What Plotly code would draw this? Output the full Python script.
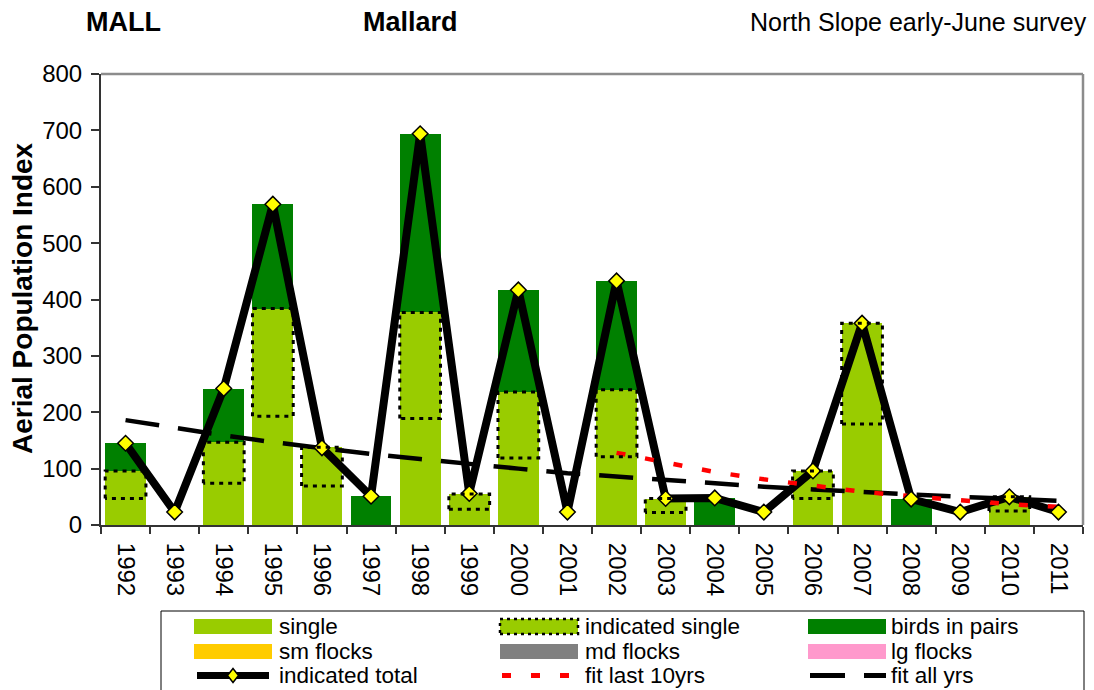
import plotly.graph_objects as go

# Data
years = ['1992', '1993', '1994', '1995', '1996', '1997', '1998', '1999', '2000', '2001',
         '2002', '2003', '2004', '2005', '2006', '2007', '2008', '2009', '2010', '2011']
single = [96, 0, 147, 384, 138, 0, 377, 55, 236, 0, 240, 47, 0, 0, 96, 358, 0, 0, 50, 0]
birds_in_pairs = [49, 0, 95, 185, 0, 51, 317, 0, 181, 0, 193, 0, 48, 0, 0, 0, 46, 0, 0, 0]
sm_flocks = [0] * 20
md_flocks = [0] * 20
lg_flocks = [0] * 20
# dotted "indicated single" box runs from this base up to the single value
ind_single_base = [47, 0, 74, 193, 69, 0, 189, 28, 119, 0, 121, 22, 0, 0, 47, 179, 0, 0, 25, 0]
indicated_total = [145, 23, 242, 569, 137, 51, 694, 56, 417, 23, 433, 47, 48, 23, 96, 358, 46, 23, 50, 23]
fit_all_yrs = [186, 172, 159, 147, 136, 126, 117, 108, 100, 92, 86, 79, 73, 68, 63, 58, 54, 50, 46, 43]
fit_years_10 = years[10:]
fit_last_10 = [128, 110, 94, 81, 69, 59, 51, 44, 37, 32]

FONT = 'Liberation Sans, Arial, sans-serif'
W, H = 1094, 690
L, R, T, B = 101, 11, 74, 165
PW, PH = W - L - R, H - T - B


def xp(px):
    return (px - L) / PW


def yp(py):
    return (H - B - py) / PH


fig = go.Figure()

# stacked bars
fig.add_trace(go.Bar(x=years, y=single, marker_color='#99CC00', marker_line_width=0, name='single'))
fig.add_trace(go.Bar(x=years, y=birds_in_pairs, marker_color='#008000', marker_line_width=0, name='birds in pairs'))
fig.add_trace(go.Bar(x=years, y=sm_flocks, marker_color='#FFCC00', marker_line_width=0, name='sm flocks'))
fig.add_trace(go.Bar(x=years, y=md_flocks, marker_color='#808080', marker_line_width=0, name='md flocks'))
fig.add_trace(go.Bar(x=years, y=lg_flocks, marker_color='#FF99CC', marker_line_width=0, name='lg flocks'))

# dotted indicated-single boxes, drawn on an overlaid numeric axis (category index)
hw = 0.415
bx, by = [], []
for i, (lo, hi) in enumerate(zip(ind_single_base, single)):
    if hi <= 0:
        continue
    bx += [i - hw, i - hw, i + hw, i + hw, i - hw, None]
    by += [lo, hi, hi, lo, lo, None]
fig.add_trace(go.Scatter(x=bx, y=by, mode='lines', xaxis='x2', yaxis='y',
                         line=dict(color='black', width=3, dash='4px,5px'),
                         name='indicated single', hoverinfo='skip'))

# indicated total line
fig.add_trace(go.Scatter(x=years, y=indicated_total, mode='lines',
                         line=dict(color='black', width=8), name='indicated total'))

# fits
fig.add_trace(go.Scatter(x=years, y=fit_all_yrs, mode='lines',
                         line=dict(color='black', width=4.5, dash='34px,19px'), name='fit all yrs'))
fig.add_trace(go.Scatter(x=fit_years_10, y=fit_last_10, mode='lines',
                         line=dict(color='#FF0000', width=4.5, dash='9px,20px'), name='fit last 10yrs'))

# markers on top
fig.add_trace(go.Scatter(x=years, y=indicated_total, mode='markers',
                         marker=dict(symbol='diamond', size=12, color='#FFFF00',
                                     line=dict(color='black', width=1.5)),
                         name='indicated total markers'))

shapes = []
annotations = []

# plot frame: grey top/right
shapes.append(dict(type='line', xref='paper', yref='paper', x0=0, x1=1, y0=1, y1=1,
                   line=dict(color='#8C8C8C', width=2.5), layer='above'))
shapes.append(dict(type='line', xref='paper', yref='paper', x0=1, x1=1, y0=0, y1=1,
                   line=dict(color='#8C8C8C', width=2.5), layer='above'))

# manual legend box
shapes.append(dict(type='rect', xref='paper', yref='paper',
                   x0=xp(161), x1=xp(1084), y0=yp(694), y1=yp(611),
                   line=dict(color='black', width=1), fillcolor='white'))

col_sw = [194, 500, 808]
col_tx = [277, 583, 889]
row_y = [626.5, 651.5, 675.5]
sw_w = 78
sw_h = 15

swatches = [
    ('single', '#99CC00', 0, 0),
    ('indicated single', '#99CC00', 1, 0),
    ('birds in pairs', '#008000', 2, 0),
    ('sm flocks', '#FFCC00', 0, 1),
    ('md flocks', '#808080', 1, 1),
    ('lg flocks', '#FF99CC', 2, 1),
]
for label, color, c, r in swatches:
    x0 = col_sw[c]
    yc = row_y[r]
    line = dict(width=0)
    if label == 'indicated single':
        line = dict(color='black', width=2.5, dash='3px,4px')
    shapes.append(dict(type='rect', xref='paper', yref='paper',
                       x0=xp(x0), x1=xp(x0 + sw_w), y0=yp(yc + sw_h / 2), y1=yp(yc - sw_h / 2),
                       fillcolor=color, line=line))

# row 3 swatches: indicated total, fit last 10yrs, fit all yrs
yc = row_y[2]
shapes.append(dict(type='line', xref='paper', yref='paper',
                   x0=xp(col_sw[0] + 3), x1=xp(col_sw[0] + sw_w - 3), y0=yp(yc), y1=yp(yc),
                   line=dict(color='black', width=7)))
dcx = col_sw[0] + sw_w / 2
shapes.append(dict(type='path', xref='paper', yref='paper',
                   path='M {a},{b} L {c},{d} L {a},{e} L {f},{d} Z'.format(
                       a=xp(dcx), b=yp(yc - 7), c=xp(dcx + 5.5), d=yp(yc), e=yp(yc + 7), f=xp(dcx - 5.5)),
                   fillcolor='#FFFF00', line=dict(color='black', width=1.5)))
shapes.append(dict(type='line', xref='paper', yref='paper',
                   x0=xp(col_sw[1] + 2), x1=xp(col_sw[1] + sw_w - 8), y0=yp(yc), y1=yp(yc),
                   line=dict(color='#FF0000', width=5, dash='9px,20px')))
shapes.append(dict(type='line', xref='paper', yref='paper',
                   x0=xp(col_sw[2] + 2), x1=xp(col_sw[2] + sw_w), y0=yp(yc), y1=yp(yc),
                   line=dict(color='black', width=5, dash='35px,19px')))

labels = [('single', 0, 0), ('indicated single', 1, 0), ('birds in pairs', 2, 0),
          ('sm flocks', 0, 1), ('md flocks', 1, 1), ('lg flocks', 2, 1),
          ('indicated total', 0, 2), ('fit last 10yrs', 1, 2), ('fit all yrs', 2, 2)]
for text, c, r in labels:
    annotations.append(dict(text=text, xref='paper', yref='paper', x=xp(col_tx[c]), y=yp(row_y[r]),
                            xanchor='left', yanchor='middle', showarrow=False,
                            font=dict(family=FONT, size=22.5, color='black')))

# header texts
annotations.append(dict(text='<b>MALL</b>', xref='paper', yref='paper', x=xp(84), y=yp(22),
                        xanchor='left', yanchor='middle', showarrow=False,
                        font=dict(family=FONT, size=27, color='black')))
annotations.append(dict(text='<b>Mallard</b>', xref='paper', yref='paper', x=xp(361), y=yp(22),
                        xanchor='left', yanchor='middle', showarrow=False,
                        font=dict(family=FONT, size=27, color='black')))
annotations.append(dict(text='North Slope early-June survey', xref='paper', yref='paper', x=xp(1089), y=yp(22),
                        xanchor='right', yanchor='middle', showarrow=False,
                        font=dict(family=FONT, size=25, color='black')))
annotations.append(dict(text='<b>Aerial Population Index</b>', xref='paper', yref='paper', x=xp(22), y=yp(298),
                        xanchor='center', yanchor='middle', textangle=-90, showarrow=False,
                        font=dict(family=FONT, size=28, color='black')))

fig.update_layout(
    width=W, height=H,
    margin=dict(l=L, r=R, t=T, b=B, pad=0, autoexpand=False),
    paper_bgcolor='white',
    plot_bgcolor='white',
    barmode='stack',
    bargap=0.17,
    showlegend=False,
    font=dict(family=FONT, color='black'),
    xaxis=dict(type='category', categoryorder='array', categoryarray=years, range=[-0.5, 19.5],
               tickson='boundaries', ticks='outside', ticklen=7, tickwidth=1.5, tickcolor='#333333',
               tickangle=90, tickfont=dict(size=24), showline=True, linecolor='#333333', linewidth=2,
               showgrid=False, zeroline=False, ticklabelstandoff=11, automargin=False),
    xaxis2=dict(overlaying='x', range=[-0.5, 19.5], visible=False),
    yaxis=dict(range=[0, 800], dtick=100, ticks='outside', ticklen=8, tickwidth=1.5, tickcolor='#333333',
               tickfont=dict(size=24), showline=True, linecolor='#333333', linewidth=2,
               showgrid=False, zeroline=False, ticklabelstandoff=4, automargin=False),
    shapes=shapes,
    annotations=annotations,
)

# drop the browser's default page margin so the figure sits at the window's corner
fig.write_html("out.html", config={'displayModeBar': False},
               post_script="document.body.style.margin='0';")
